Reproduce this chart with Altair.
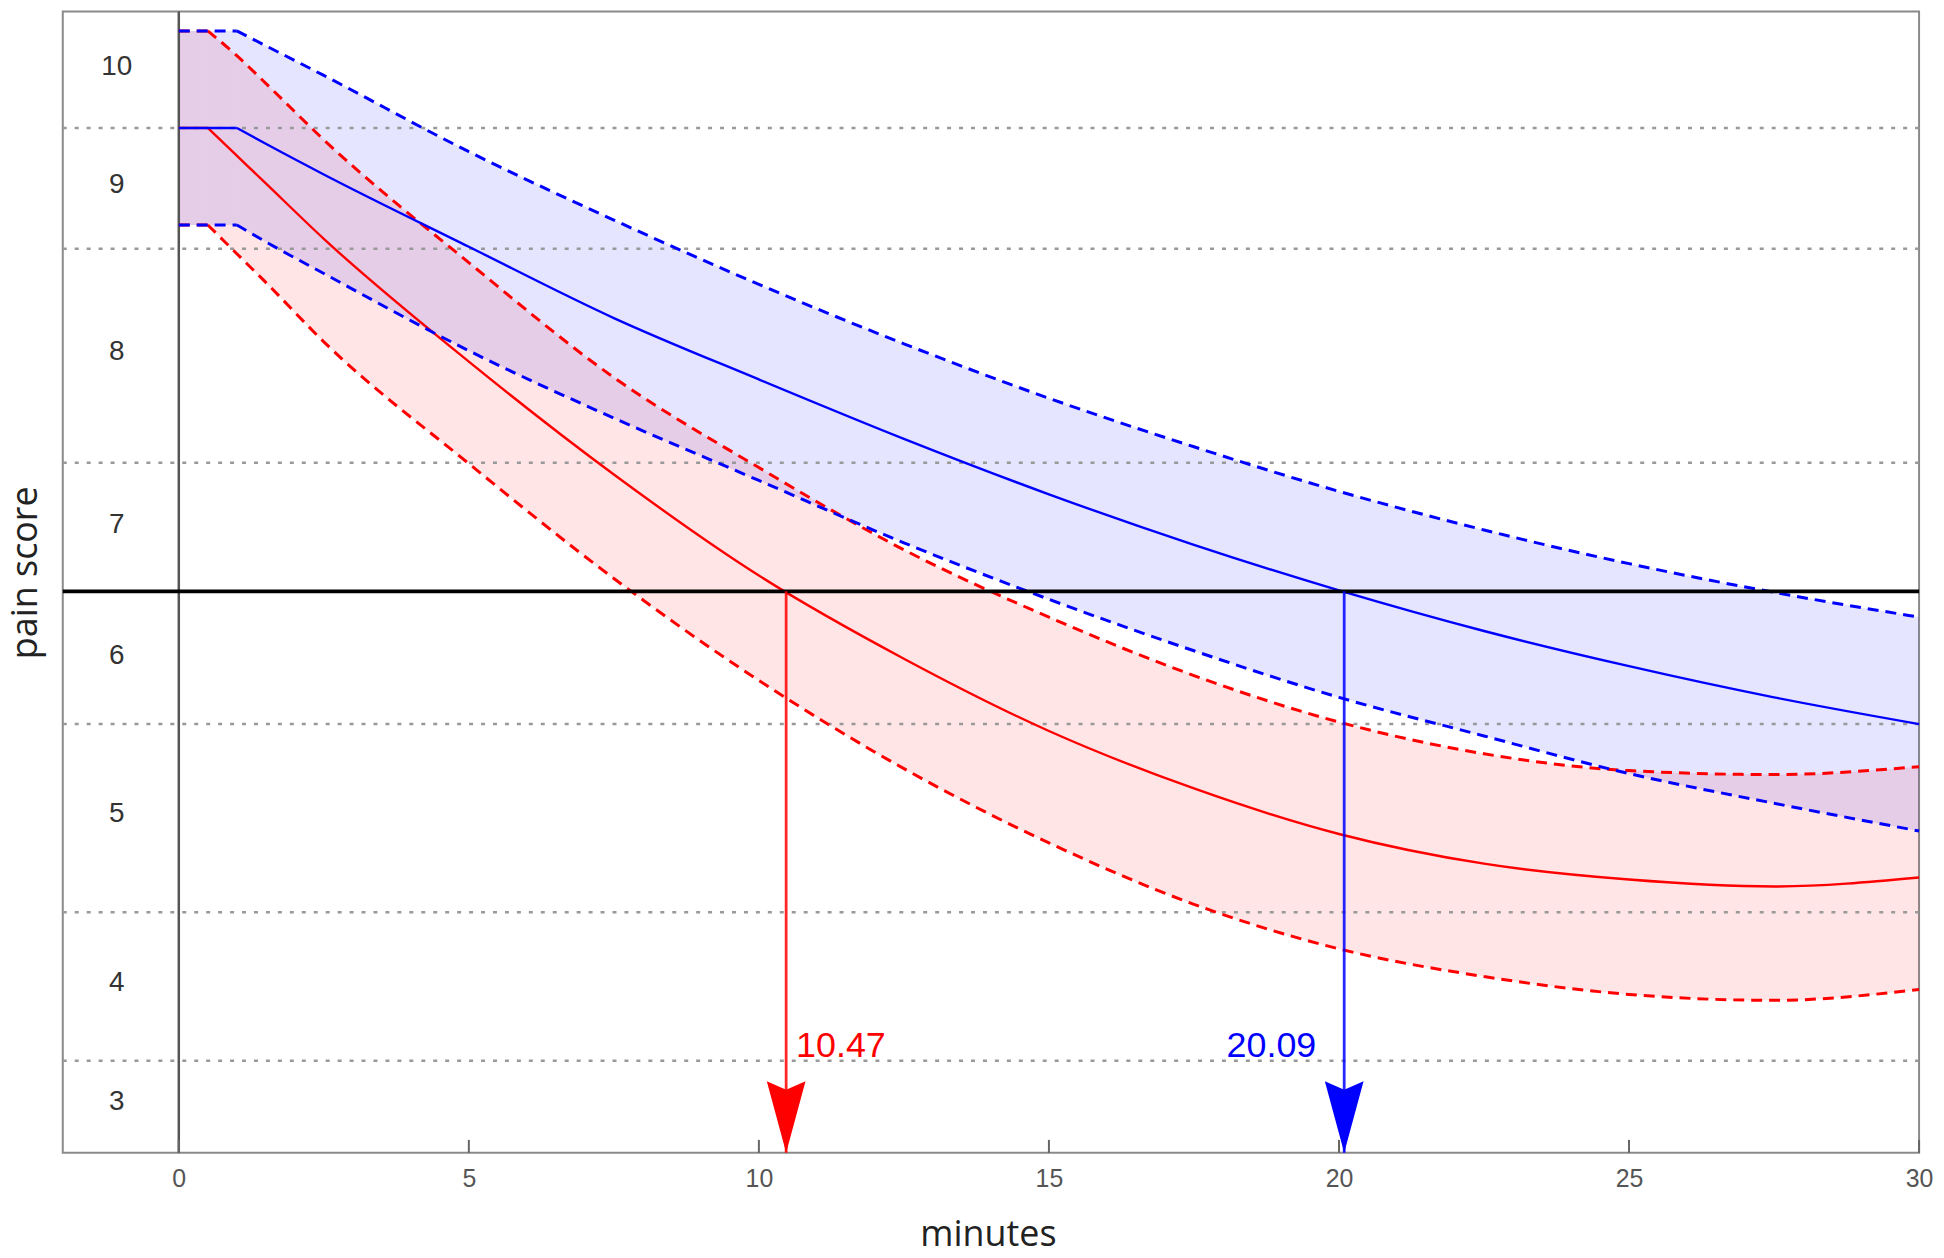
import altair as alt
import pandas as pd

# ---------------- data ----------------
minutes = [0, 0.5, 1, 1.5, 2.5, 5, 7.5, 10, 12.5, 15, 17.5, 20, 22.5, 25, 27.5, 30]

# latent pain-score scale (threshold between 6 and 7 at 0)
blue_mean  = [4.68, 4.68, 4.68, 4.52, 4.21, 3.48, 2.76, 2.14, 1.54, 0.98, 0.47, 0.01, -0.40, -0.755, -1.07, -1.34]
blue_upper = [5.66, 5.66, 5.66, 5.51, 5.21, 4.44, 3.75, 3.10, 2.50, 1.95, 1.46, 1.01, 0.62, 0.28, -0.01, -0.26]
blue_lower = [3.70, 3.70, 3.70, 3.53, 3.21, 2.43, 1.75, 1.12, 0.49, -0.08, -0.60, -1.07, -1.46, -1.84, -2.14, -2.42]

red_mean  = [4.68, 4.68, 4.40, 4.12, 3.56, 2.32, 1.18, 0.16, -0.68, -1.41, -1.99, -2.45, -2.75, -2.91, -2.98, -2.89]
red_upper = [5.66, 5.66, 5.41, 5.13, 4.56, 3.32, 2.16, 1.25, 0.42, -0.26, -0.85, -1.32, -1.64, -1.81, -1.85, -1.77]
red_lower = [3.70, 3.70, 3.41, 3.12, 2.52, 1.29, 0.13, -0.90, -1.79, -2.54, -3.16, -3.61, -3.89, -4.07, -4.13, -4.02]

# minute at which each curve leaves its initial plateau
red_decline_start = 0.5
blue_decline_start = 1.0

cutpoints = [4.68, 3.46, 1.30, -1.34, -3.24, -4.74]
threshold = 0.0

score_labels = ["10", "9", "8", "7", "6", "5", "4", "3"]
score_label_pos = [5.30, 4.10, 2.42, 0.67, -0.65, -2.25, -3.96, -5.16]

crossing_minutes = [10.47, 20.09]
crossing_labels = ["10.47", "20.09"]
crossing_groups = ["red", "blue"]

x_ticks = [0, 5, 10, 15, 20, 25, 30]

# ---------------- chart ----------------
W, H = 1864, 1146
X_MIN, X_MAX = -2, 30
Y_MIN, Y_MAX = -5.67, 5.855
RED, BLUE = "#ff0000", "#0000ff"

df = pd.DataFrame({
    "minutes": minutes,
    "blue_mean": blue_mean, "blue_upper": blue_upper, "blue_lower": blue_lower,
    "red_mean": red_mean, "red_upper": red_upper, "red_lower": red_lower,
})
grid_df = pd.DataFrame({"cut": cutpoints})
thr_df = pd.DataFrame({"thr": [threshold]})
lab_df = pd.DataFrame({"score": score_labels, "pos": score_label_pos})
tick_df = pd.DataFrame({"tick": x_ticks})
cross_df = pd.DataFrame({
    "minutes": crossing_minutes, "label": crossing_labels, "group": crossing_groups,
    "top": [threshold] * len(crossing_minutes), "bottom": [Y_MIN] * len(crossing_minutes),
})

xscale = alt.Scale(domain=[X_MIN, X_MAX], nice=False, zero=False)
yscale = alt.Scale(domain=[Y_MIN, Y_MAX], nice=False, zero=False)
cscale = alt.Scale(domain=["red", "blue"], range=[RED, BLUE])

x_axis = alt.Axis(
    values=x_ticks, title="minutes", grid=False, domain=False, ticks=False,
    labelFont="Liberation Sans", labelFontSize=25, labelColor="#555555",
    labelPadding=14, labelFlush=False, labelOverlap=False,
    titleFont="Open Sans", titleFontSize=36, titleFontWeight="normal",
    titleColor="#222222", titleX=W / 2 - 3, titleY=93, titleAlign="center",
    titleBaseline="alphabetic",
)
y_axis = alt.Axis(
    title="pain score", labels=False, ticks=False, domain=False, grid=False,
    titleFont="Open Sans", titleFontSize=36, titleFontWeight="normal",
    titleColor="#222222", titleX=-26, titleY=563, titleAngle=270,
    titleAlign="center", titleBaseline="alphabetic",
)


def X(field):
    return alt.X(field, type="quantitative", scale=xscale, axis=x_axis)


def Y(field):
    return alt.Y(field, type="quantitative", scale=yscale, axis=y_axis)


base = alt.Chart(df)
layers = []

series = [("red", RED, red_decline_start), ("blue", BLUE, blue_decline_start)]

# confidence bands: plateau (straight) + decline (smooth)
for name, color, k in series:
    layers.append(base.transform_filter(alt.datum.minutes <= k).mark_area(
        color=color, opacity=0.1, interpolate="linear").encode(
        x=X("minutes"), y=Y(f"{name}_upper"), y2=alt.Y2(f"{name}_lower")))
    layers.append(base.transform_filter(alt.datum.minutes >= k).mark_area(
        color=color, opacity=0.1, interpolate="monotone").encode(
        x=X("minutes"), y=Y(f"{name}_upper"), y2=alt.Y2(f"{name}_lower")))

# dotted cut-point grid lines
layers.append(alt.Chart(grid_df).mark_rule(
    color="#999999", strokeWidth=2.5, strokeDash=[4, 8]).encode(y=Y("cut")))

# x = 0 axis line
layers.append(alt.Chart(pd.DataFrame({"zero": [0]})).mark_rule(
    color="#555555", strokeWidth=2.5).encode(x=X("zero")))

# inward bottom ticks
layers.append(alt.Chart(tick_df).mark_rule(color="#666666", strokeWidth=2).encode(
    x=X("tick"), y=alt.value(H), y2=alt.value(H - 13)))

# curves
DASH = [11, 7]
for name, color, k in series:
    for part, dash, sw in [("upper", DASH, 3), ("lower", DASH, 3), ("mean", None, 2.4)]:
        for flt, interp in [(alt.datum.minutes <= k, "linear"), (alt.datum.minutes >= k, "monotone")]:
            kw = dict(color=color, strokeWidth=sw, interpolate=interp)
            if dash:
                kw["strokeDash"] = dash
            layers.append(base.transform_filter(flt).mark_line(**kw).encode(
                x=X("minutes"), y=Y(f"{name}_{part}")))

# threshold line
layers.append(alt.Chart(thr_df).mark_rule(color="#000000", strokeWidth=4).encode(y=Y("thr")))

# arrows
layers.append(alt.Chart(cross_df).mark_rule(strokeWidth=2.8, opacity=0.85).encode(
    x=X("minutes"), y=Y("top"), y2=alt.Y2("bottom"),
    color=alt.Color("group:N", scale=cscale, legend=None)))
ARROW = "M -0.27 -1 L 0 -0.88 L 0.27 -1 L 0 0 Z"
layers.append(alt.Chart(cross_df).mark_point(
    shape=ARROW, size=20736, filled=True, opacity=1, strokeWidth=0).encode(
    x=X("minutes"), y=Y("bottom"),
    color=alt.Color("group:N", scale=cscale, legend=None)))

# crossing annotations
for i, (align, dx) in enumerate([("left", 10), ("right", -28)]):
    layers.append(alt.Chart(cross_df.iloc[[i]]).mark_text(
        align=align, dx=dx, baseline="alphabetic", font="Liberation Sans", fontSize=36
    ).transform_calculate(ty="-4.70").encode(
        x=X("minutes"), y=Y("ty"), text="label:N",
        color=alt.Color("group:N", scale=cscale, legend=None)))

# pain score category labels inside the frame
layers.append(alt.Chart(lab_df).mark_text(
    align="center", baseline="middle", font="Liberation Sans", fontSize=28, color="#333333"
).transform_calculate(lx="-1.07").encode(x=X("lx"), y=Y("pos"), text="score:N"))

chart = alt.layer(*layers).properties(
    width=W, height=H,
    autosize=alt.AutoSizeParams(type="none"),
    padding={"left": 55, "top": 1, "right": 17, "bottom": 103},
    background="white",
).configure_view(stroke="#8a8a8a", strokeWidth=2)

chart.save("out.html", embed_options={"renderer": "svg", "actions": False})
